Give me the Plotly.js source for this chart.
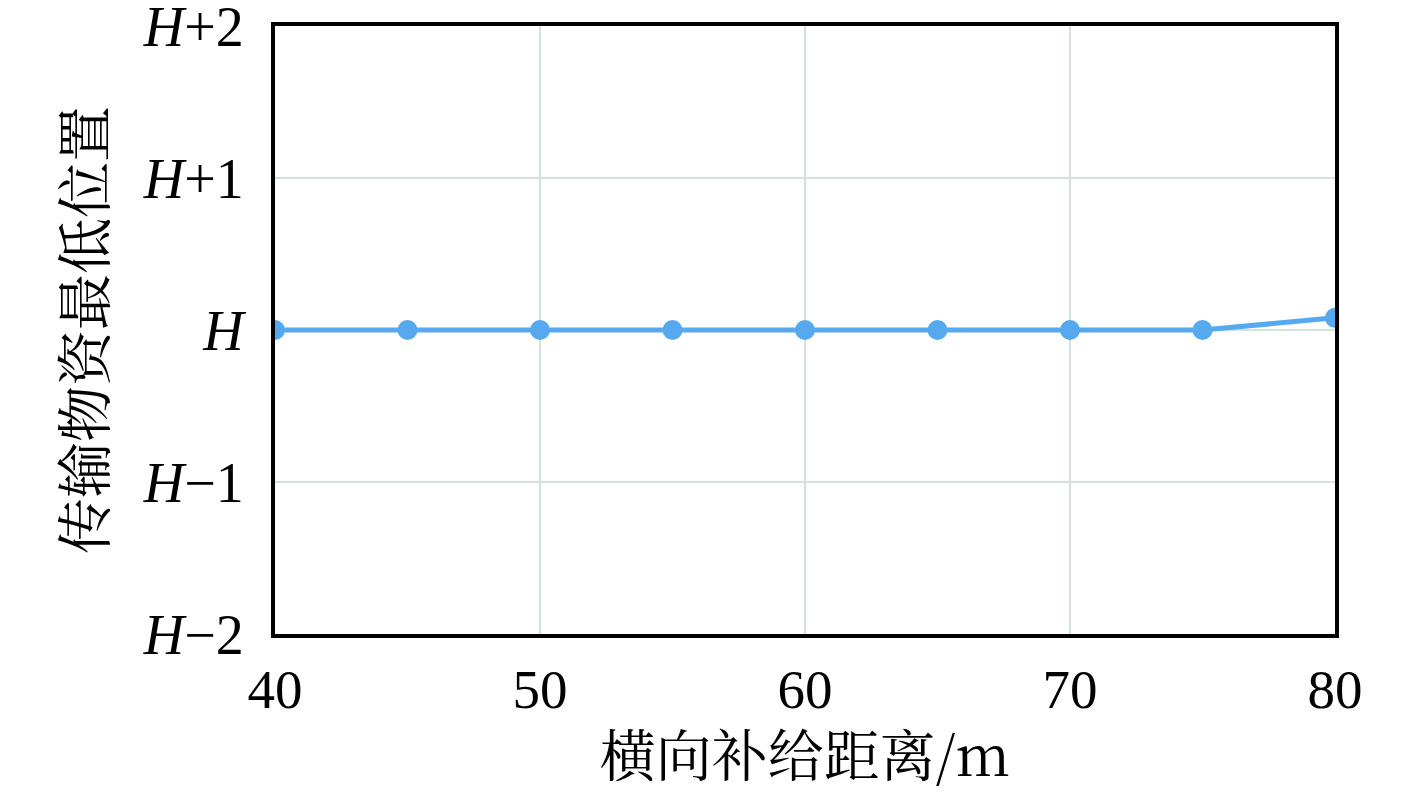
<!DOCTYPE html>
<html><head><meta charset="utf-8">
<script src="https://cdn.plot.ly/plotly-3.0.1.min.js"></script>
<style>body{margin:0}#c{width:1417px;height:792px}</style>
</head><body><div id="c"></div>
<script>
const distance = [40, 45, 50, 55, 60, 65, 70, 75, 80];
const lowestPos = [0, 0, 0, 0, 0, 0, 0, 0, 0.08];
const yTickVals = [-2, -1, 0, 1, 2];
const yTickText = ['<i>H</i>\u22122', '<i>H</i>\u22121', '<i>H</i>', '<i>H</i>+1', '<i>H</i>+2'];
const xTickVals = [40, 50, 60, 70, 80];

const serif = '"Liberation Serif", "Times New Roman", serif';
const cjk = '"Noto Serif CJK SC", "Noto Sans CJK SC", ' + serif;
Plotly.newPlot('c', [{
  x: distance, y: lowestPos, type: 'scatter', mode: 'lines+markers',
  line: {color: '#56a9ef', width: 5},
  marker: {color: '#56a9ef', size: 20},
  cliponaxis: true
}], {
  width: 1417, height: 792,
  margin: {l: 275, r: 82, t: 26, b: 158},
  paper_bgcolor: '#fff', plot_bgcolor: '#fff',
  showlegend: false,
  xaxis: {
    range: [40, 80], tickvals: xTickVals, ticktext: xTickVals.map(String),
    tickfont: {family: serif, size: 55, color: '#000'},
    ticklabeloverflow: 'allow',
    showgrid: true, gridcolor: '#d5e0e0', gridwidth: 2,
    showline: true, linecolor: '#000', linewidth: 4, mirror: true,
    ticks: '', zeroline: false, ticklabelstandoff: 4,
    title: {text: '横向补给距离/m', font: {family: cjk, size: 56, color: '#000'}, standoff: 16}
  },
  yaxis: {
    range: [-2, 2], tickvals: yTickVals, ticktext: yTickText,
    tickfont: {family: serif, size: 56, color: '#000'},
    ticklabeloverflow: 'allow',
    showgrid: true, gridcolor: '#d5e0e0', gridwidth: 2,
    showline: true, linecolor: '#000', linewidth: 4, mirror: true,
    ticks: '', zeroline: false, ticklabelstandoff: 16,
    title: {text: '传输物资最低位置', font: {family: cjk, size: 56, color: '#000'}, standoff: 20}
  }
}, {displayModeBar: false, staticPlot: true});
</script></body></html>
